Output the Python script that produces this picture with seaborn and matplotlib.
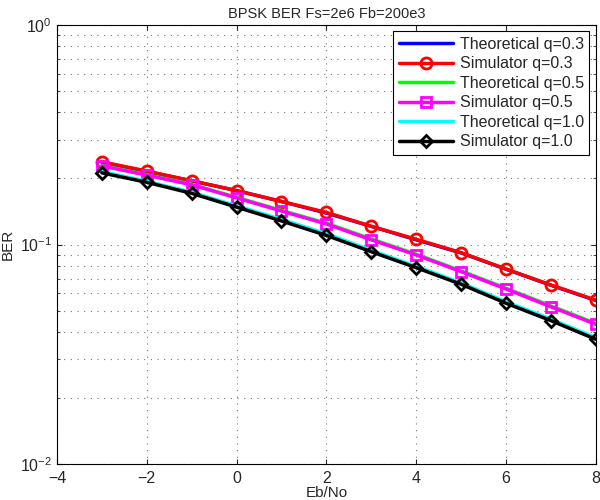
import matplotlib
matplotlib.use("Agg")
import matplotlib.pyplot as plt
import seaborn as sns
import pandas as pd

# Eb/No in dB
ebno = [-3, -2, -1, 0, 1, 2, 3, 4, 5, 6, 7, 8]

# BER values
theo_q03 = [0.237, 0.215, 0.195, 0.176, 0.157, 0.139, 0.121, 0.105, 0.0915, 0.0772, 0.0652, 0.0556]
sim_q03 = [0.238, 0.216, 0.195, 0.176, 0.157, 0.140, 0.121, 0.1056, 0.0918, 0.0773, 0.0654, 0.0558]
theo_q05 = [0.229, 0.208, 0.188, 0.164, 0.143, 0.125, 0.106, 0.0903, 0.0758, 0.0632, 0.0525, 0.0437]
sim_q05 = [0.228, 0.207, 0.187, 0.163, 0.142, 0.124, 0.105, 0.0896, 0.0752, 0.0627, 0.0520, 0.0433]
theo_q10 = [0.215, 0.194, 0.173, 0.150, 0.130, 0.112, 0.0940, 0.0795, 0.0668, 0.0548, 0.0457, 0.0376]
sim_q10 = [0.212, 0.192, 0.171, 0.148, 0.128, 0.110, 0.0927, 0.0784, 0.0659, 0.0540, 0.0450, 0.0370]

series = [
    ("Theoretical q=0.3", theo_q03, "#0000ff", None),
    ("Simulator q=0.3", sim_q03, "#ff0000", "o"),
    ("Theoretical q=0.5", theo_q05, "#00ff00", None),
    ("Simulator q=0.5", sim_q05, "#ff00ff", "s"),
    ("Theoretical q=1.0", theo_q10, "#00ffff", None),
    ("Simulator q=1.0", sim_q10, "#000000", "D"),
]

sns.set_style("ticks")
plt.rcParams["font.family"] = ["Liberation Sans", "DejaVu Sans"]

fig = plt.figure(figsize=(6, 5), dpi=100)
ax = fig.add_axes([0.095, 0.072, 0.898, 0.878])

for name, vals, color, marker in series:
    df = pd.DataFrame({"Eb/No": ebno, "BER": vals})
    if marker is None:
        sns.lineplot(data=df, x="Eb/No", y="BER", ax=ax, color=color, linewidth=2.5, label=name)
    else:
        ms = {"o": 8, "s": 6.5, "D": 6.5}[marker]
        sns.lineplot(data=df, x="Eb/No", y="BER", ax=ax, color=color, linewidth=2.5,
                     marker=marker, markersize=ms, markerfacecolor="none",
                     markeredgecolor=color, markeredgewidth=2, label=name)

ax.set_yscale("log")
ax.set_xlim(-4, 8)
ax.set_ylim(1e-2, 1)
ax.set_xticks([-4, -2, 0, 2, 4, 6, 8])
ax.set_xticklabels(["\u22124", "\u22122", "0", "2", "4", "6", "8"])
grid_kw = dict(linestyle=(0, (1, 5)), color="#777777", linewidth=0.8)
ax.grid(True, which="major", **grid_kw)
ax.grid(True, which="minor", axis="y", **grid_kw)
ax.tick_params(which="both", direction="in", top=True, right=True, labelsize=11.5)
ax.tick_params(axis="x", pad=5)
ax.tick_params(which="minor", length=2)
for s in ax.spines.values():
    s.set_visible(True)
    s.set_color("black")
    s.set_linewidth(0.8)

ax.set_title("BPSK BER Fs=2e6 Fb=200e3", fontsize=10.5, pad=5)
ax.set_xlabel("Eb/No", fontsize=11, labelpad=0)
ax.set_ylabel("BER", fontsize=11, labelpad=4)

leg = ax.legend(loc="upper right", fontsize=11.5, frameon=True, fancybox=False,
                borderaxespad=0.4, handlelength=3.4, labelspacing=0.28,
                borderpad=0.35, handletextpad=0.4)
leg.get_frame().set_edgecolor("black")
leg.get_frame().set_linewidth(0.8)
leg.get_frame().set_alpha(1)

fig.savefig("out.png", dpi=100)
